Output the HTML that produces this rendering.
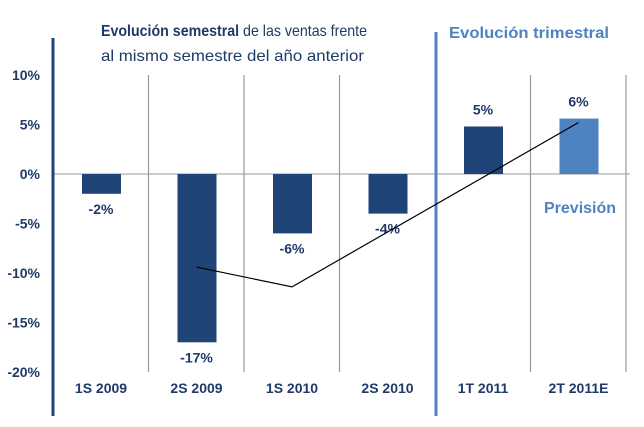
<!DOCTYPE html>
<html><head><meta charset="utf-8"><style>
body{margin:0;background:#fff;}
svg{display:block;font-family:"Liberation Sans",Arial,sans-serif;}
</style></head><body>
<svg id="chart" width="644" height="427">
<g id="grid"></g>
<line x1="53" y1="38" x2="53" y2="416" stroke="#1f4478" stroke-width="3"/>
<line x1="436" y1="32" x2="436" y2="416" stroke="#4f82c0" stroke-width="3"/>
<text x="101" y="36" font-size="16" fill="#1f3a68" textLength="266" lengthAdjust="spacingAndGlyphs"><tspan font-weight="bold">Evolución semestral</tspan> de las ventas frente</text>
<text x="101" y="61" font-size="16" fill="#1f3a68" textLength="263" lengthAdjust="spacingAndGlyphs">al mismo semestre del año anterior</text>
<text x="449" y="38" font-size="16" font-weight="bold" fill="#4f82c0" textLength="160" lengthAdjust="spacingAndGlyphs">Evolución trimestral</text>
<text x="544" y="213" font-size="16" font-weight="bold" fill="#4f82c0">Previsión</text>
<g id="ticks"></g><g id="bars"></g><g id="labels"></g><g id="line"></g>
</svg>
<script>
const categories=["1S 2009","2S 2009","1S 2010","2S 2010","1T 2011","2T 2011E"];
const values=[-2,-17,-6,-4,4.8,5.6];
const valueLabels=["-2%","-17%","-6%","-4%","5%","6%"];
const trendIdx=[1,2,5];
const trendVals=[-9.4,-11.4,5.2];
const yTicks=[10,5,0,-5,-10,-15,-20];
const NS="http://www.w3.org/2000/svg";
const y=v=>174-v*9.9;
const x=i=>101+i*95.5;
function mk(t,a,p){const e=document.createElementNS(NS,t);for(const k in a)e.setAttribute(k,a[k]);document.getElementById(p).appendChild(e);return e;}
[1,2,3,5,6].forEach(i=>{const gx=x(i)-48;
 const l=mk('line',{x1:gx,y1:y(10),x2:gx,y2:y(-20),stroke:'#999','stroke-width':1.2},'grid');
 
 });
const z=mk('line',{x1:53,y1:y(0),x2:630,y2:y(0),stroke:'#999','stroke-width':1},'grid');


yTicks.forEach(v=>{const t=mk('text',{x:40,y:y(v)+5,'font-size':14,'font-weight':'bold',fill:'#1f3a68','text-anchor':'end'},'ticks');t.textContent=v+'%';
 
 });
categories.forEach((c,i)=>{const v=values[i];
 const b=mk('rect',{x:x(i)-19,y:Math.min(y(0),y(v)),width:39,height:Math.abs(y(v)-y(0)),fill:i==5?'#4f82c0':'#1f4478'},'bars');
 
 
 const t=mk('text',{x:x(i),y:393,'font-size':14,'font-weight':'bold',fill:'#1f3a68','text-anchor':'middle'},'labels');t.textContent=c;
 
 
 const ly=v<0?y(v)+20:y(v)-12;
 const vl=mk('text',{x:x(i),y:ly,'font-size':14,'font-weight':'bold',fill:'#1f3a68','text-anchor':'middle'},'labels');vl.textContent=valueLabels[i];
 
 });
const pts=trendIdx.map((i,k)=>x(i)+','+y(trendVals[k])).join(' ');
const pl=mk('polyline',{points:pts,fill:'none',stroke:'#000','stroke-width':1.2},'line');


</script>
</body></html>
